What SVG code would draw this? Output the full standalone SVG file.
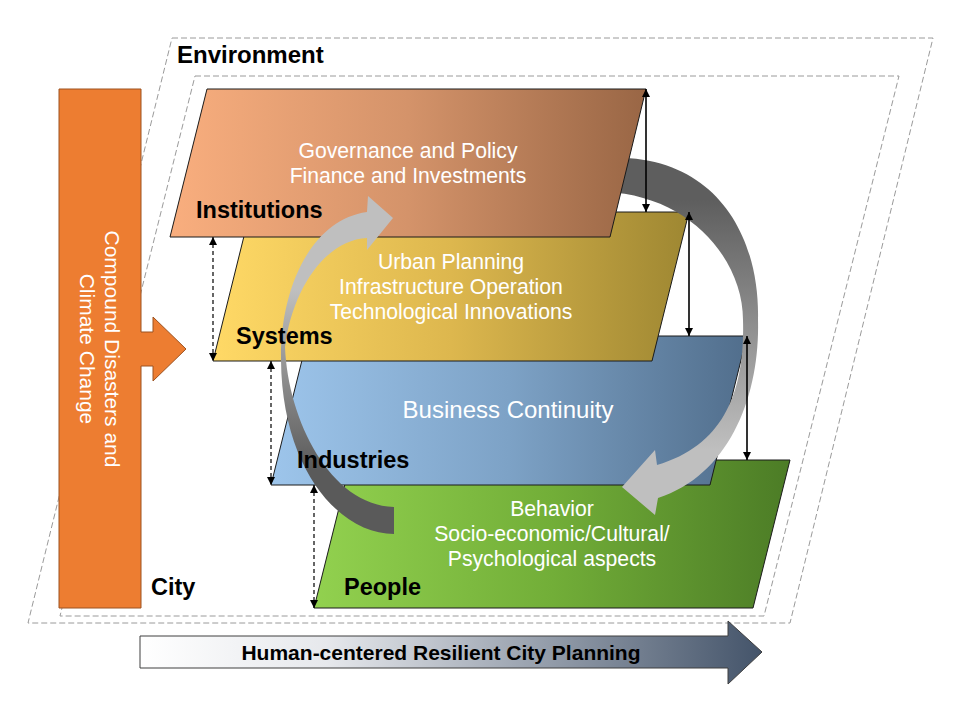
<svg xmlns="http://www.w3.org/2000/svg" width="960" height="720" viewBox="0 0 960 720">
<style>
  .env{fill:none;stroke:#9a9a9a;stroke-width:1;stroke-dasharray:6 3}
  .node{stroke:#1a1a1a;stroke-width:1}
  .lbl{font-family:"Liberation Sans",Arial,sans-serif;font-weight:bold;font-size:23.5px;fill:#000}
  .desc{font-family:"Liberation Sans",Arial,sans-serif;font-size:21.2px;fill:#fff;text-anchor:middle}
  .solid{stroke:#000;stroke-width:1.6;fill:none}
  .dash{stroke:#000;stroke-width:1.2;fill:none;stroke-dasharray:4 3}
</style>
<defs>
  <linearGradient id="gInst" x1="0" y1="0" x2="1" y2="0">
    <stop offset="0" stop-color="#F9AE7E"/>
    <stop offset="0.5" stop-color="#D4936A"/>
    <stop offset="1" stop-color="#996645"/>
  </linearGradient>
  <linearGradient id="gSys" x1="0" y1="0" x2="1" y2="0">
    <stop offset="0" stop-color="#FFD966"/>
    <stop offset="0.5" stop-color="#DDB74E"/>
    <stop offset="1" stop-color="#9E8732"/>
  </linearGradient>
  <linearGradient id="gInd" x1="0" y1="0" x2="1" y2="0">
    <stop offset="0" stop-color="#9DC5EB"/>
    <stop offset="0.5" stop-color="#7DA2C6"/>
    <stop offset="1" stop-color="#516E8C"/>
  </linearGradient>
  <linearGradient id="gPeo" x1="0" y1="0" x2="1" y2="0">
    <stop offset="0" stop-color="#92D14F"/>
    <stop offset="0.5" stop-color="#72AE38"/>
    <stop offset="1" stop-color="#4C7C26"/>
  </linearGradient>
  <linearGradient id="gBottom" x1="0" y1="0" x2="1" y2="0">
    <stop offset="0" stop-color="#FFFFFF"/>
    <stop offset="0.3" stop-color="#E6E8EC"/>
    <stop offset="1" stop-color="#44546A"/>
  </linearGradient>
  <linearGradient id="gRight" gradientUnits="userSpaceOnUse" x1="0" y1="200" x2="0" y2="450">
    <stop offset="0" stop-color="#5E5E5E"/>
    <stop offset="1" stop-color="#BFBFBF"/>
  </linearGradient>
  <linearGradient id="gLeft" gradientUnits="userSpaceOnUse" x1="0" y1="470" x2="0" y2="290">
    <stop offset="0" stop-color="#5A5A5A"/>
    <stop offset="1" stop-color="#BFBFBF"/>
  </linearGradient>
  <marker id="ah" viewBox="0 0 10 10" refX="10" refY="5" markerUnits="userSpaceOnUse" markerWidth="8" markerHeight="8" orient="auto-start-reverse">
    <path d="M0,0 L10,5 L0,10 Z" fill="#000"/>
  </marker>
</defs>

<g id="environment-frame">
  <path class="env" d="M172,38 L933,38 L790,623 L28,623 Z"/>
  <path class="env" d="M195,76 L899,76 L764,616 L60,616 Z"/>
</g>

<g id="compound-disasters">
  <path d="M59,89 L141,89 L141,332 L153,332 L153,317 L186,349 L153,381 L153,366 L141,366 L141,608 L59,608 Z" fill="#ED7D31" stroke="#9C5220" stroke-width="1"/>
  <g transform="translate(100,349) rotate(90)" font-family="'Liberation Sans',Arial,sans-serif" font-size="21" fill="#fff" text-anchor="middle">
    <text x="0" y="-5">Compound Disasters and</text>
    <text x="0" y="20">Climate Change</text>
  </g>
</g>

<g id="people">
  <path class="node" d="M351,460 L790,460 L753,608 L314,608 Z" fill="url(#gPeo)"/>
</g>
<g id="industries">
  <path class="node" d="M308,336 L747,336 L710,485 L271,485 Z" fill="url(#gInd)"/>
</g>
<g id="systems">
  <path class="node" d="M250,212 L689,212 L652,361 L213,361 Z" fill="url(#gSys)"/>
</g>

<g id="cycle-arrow-right">
  <path fill="url(#gRight)" d="M605,158 C715,152 760,235 758,320 C760,395 730,475 658,498 L655,515 L622,487 L655,450 L657,465 C725,445 745,390 743,320 C743,260 690,195 605,192 Z"/>
</g>

<g id="institutions">
  <path class="node" d="M207,89 L646,89 L610,237 L170,237 Z" fill="url(#gInst)"/>
</g>

<g id="cycle-arrow-left">
  <path fill="url(#gLeft)" d="M394,534 C340,534 282,470 281,360 C280,290 310,220 367,212 L368,196 L393,218 L367,250 L367,238 C325,240 292,290 285,347 C288,420 330,505 394,507 Z"/>
</g>

<g id="institutions-text">
  <text class="desc" x="408" y="158">Governance and Policy</text>
  <text class="desc" x="408" y="183">Finance and Investments</text>
  <text class="lbl" x="196" y="218">Institutions</text>
</g>
<g id="systems-text">
  <text class="desc" x="451" y="269">Urban Planning</text>
  <text class="desc" x="451" y="294">Infrastructure Operation</text>
  <text class="desc" x="451" y="319">Technological Innovations</text>
  <text class="lbl" x="236" y="344">Systems</text>
</g>
<g id="industries-text">
  <text class="desc" x="508" y="418" style="font-size:24px">Business Continuity</text>
  <text class="lbl" x="297" y="468">Industries</text>
</g>
<g id="people-text">
  <text class="desc" x="552" y="516">Behavior</text>
  <text class="desc" x="552" y="541">Socio-economic/Cultural/</text>
  <text class="desc" x="552" y="566">Psychological aspects</text>
  <text class="lbl" x="344" y="595">People</text>
</g>

<g id="connectors">
  <line class="solid" x1="646" y1="89" x2="646" y2="212" marker-start="url(#ah)" marker-end="url(#ah)"/>
  <line class="solid" x1="689" y1="212" x2="689" y2="336" marker-start="url(#ah)" marker-end="url(#ah)"/>
  <line class="solid" x1="747" y1="336" x2="747" y2="460" marker-start="url(#ah)" marker-end="url(#ah)"/>
  <line class="dash" x1="213" y1="237" x2="213" y2="361" marker-start="url(#ah)" marker-end="url(#ah)"/>
  <line class="dash" x1="271" y1="361" x2="271" y2="485" marker-start="url(#ah)" marker-end="url(#ah)"/>
  <line class="dash" x1="314" y1="485" x2="314" y2="608" marker-start="url(#ah)" marker-end="url(#ah)"/>
</g>

<g id="frame-labels">
  <text class="lbl" x="177" y="63" style="font-size:24px">Environment</text>
  <text class="lbl" x="151" y="595">City</text>
</g>

<g id="planning-arrow">
  <path d="M140,636 L728,636 L728,621 L762,652 L728,684 L728,668 L140,668 Z" fill="url(#gBottom)" stroke="#3F3F3F" stroke-width="1"/>
  <text x="441" y="660" font-family="'Liberation Sans',Arial,sans-serif" font-weight="bold" font-size="21" fill="#000" text-anchor="middle">Human-centered Resilient City Planning</text>
</g>
</svg>
